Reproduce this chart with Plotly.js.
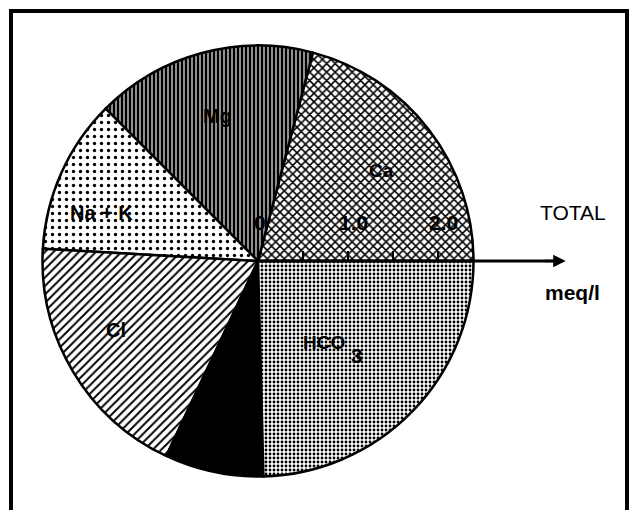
<!DOCTYPE html>
<html>
<head>
<meta charset="utf-8">
<script src="https://cdn.plot.ly/plotly-3.0.1.min.js"></script>
<style>html,body{margin:0;padding:0;background:#fff;}#chart{width:633px;height:510px;}</style>
</head>
<body>
<div id="chart"></div>
<script>
// ---- data ----
const sliceLabels = ['Ca', 'Mg', 'Na + K', 'Cl', 'SO4', 'HCO3'];
const sliceValues = [20.9, 16.6, 11.6, 18.9, 7.4, 24.6];
const tickVals = [0, 0.5, 1.0, 1.5, 2.0];
const tickText = ['0', '', '1.0', '', '2.0'];
const axisLabel = 'TOTAL';
const unitLabel = 'meq/l';

// ---- geometry / style ----
const W = 633, H = 510;
const cx = 258, cy = 261, R = 215.5;       // pie centre & radius in px
const pxPerUnit = 90;                        // axis scale
const axisEndPx = 566;
const axisMax = (axisEndPx - cx) / pxPerUnit;
const FONT = 'Liberation Sans, Arial, sans-serif';

const total = sliceValues.reduce((a, b) => a + b, 0);
// counterclockwise pies put the first slice clockwise of `rotation`;
// shift so that the first slice starts at 3 o'clock and runs upward
const rotation = 90 - sliceValues[0] / total * 360;

const pie = {
  type: 'pie',
  labels: sliceLabels,
  values: sliceValues,
  sort: false,
  direction: 'counterclockwise',
  rotation: rotation,
  textinfo: 'none',
  hoverinfo: 'skip',
  showlegend: false,
  domain: {
    x: [(cx - R) / W, (cx + R) / W],
    y: [(H - cy - R) / H, (H - cy + R) / H]
  },
  marker: {
    colors: ['#000', '#000', '#000', '#000', '#000', '#000'],
    line: {color: '#000', width: 2.5},
    pattern: {
      shape: ['x', '|', '.', '/', '', '.'],
      size: [6, 4, 7, 6, 8, 4],
      solidity: [0.45, 0.72, 0.18, 0.32, 0.5, 0.4],
      fillmode: 'replace'
    }
  }
};

const axisTrace = {
  type: 'scatter',
  x: tickVals,
  y: tickVals.map(() => 0),
  mode: 'none',
  hoverinfo: 'skip',
  showlegend: false,
  xaxis: 'x', yaxis: 'y'
};

const yPos = (H - cy) / H;
const tickLenPx = 10;
const yUnitPx = 510 * 0.1 / 2;   // px per y unit (domain 0.1 of height, range 2)

const labelPos = {
  'Ca': [381, 170, 19],
  'Mg': [217, 116, 20],
  'Na + K': [101, 213, 20],
  'Cl': [116, 330, 20]
};

const annotations = [];
Object.keys(labelPos).forEach(k => {
  const p = labelPos[k];
  annotations.push({
    xref: 'paper', yref: 'paper', x: p[0] / W, y: (H - p[1]) / H,
    text: k, showarrow: false,
    xanchor: 'center', yanchor: 'middle',
    font: {family: FONT, size: p[2], color: '#000', weight: 'bold'}
  });
});
annotations.push({
  xref: 'paper', yref: 'paper', x: 324 / W, y: (H - 342) / H,
  text: 'HCO', showarrow: false, xanchor: 'center', yanchor: 'middle',
  font: {family: FONT, size: 19, color: '#000', weight: 'bold'}
});
annotations.push({
  xref: 'paper', yref: 'paper', x: 357 / W, y: (H - 355) / H,
  text: '3', showarrow: false, xanchor: 'center', yanchor: 'middle',
  font: {family: FONT, size: 21, color: '#000', weight: 'bold'}
});
annotations.push({
  xref: 'paper', yref: 'paper', x: 573 / W, y: (H - 213) / H,
  text: axisLabel, showarrow: false, xanchor: 'center', yanchor: 'middle',
  font: {family: FONT, size: 21, color: '#000'}
});
annotations.push({
  xref: 'paper', yref: 'paper', x: 572 / W, y: (H - 292) / H,
  text: unitLabel, showarrow: false, xanchor: 'center', yanchor: 'middle',
  font: {family: FONT, size: 21, color: '#000', weight: 'bold'}
});
// tick labels of the TOTAL scale, placed on the x axis
tickVals.forEach((v, i) => {
  if (!tickText[i]) return;
  annotations.push({
    xref: 'x', yref: 'paper', x: v, y: (H - 222) / H,
    text: tickText[i], showarrow: false, xanchor: 'center', yanchor: 'middle',
    xshift: v === 0 ? 2 : 5,
    font: {family: FONT, size: 21, color: '#000', weight: 'bold'}
  });
});
// arrow head at end of the axis
annotations.push({
  xref: 'x', yref: 'y', x: axisMax * 0.999, y: 0,
  ax: -22, ay: 0, text: '', showarrow: true,
  arrowhead: 2, arrowsize: 1, arrowwidth: 2.5, arrowcolor: '#000'
});

const shapes = [{
  type: 'rect', xref: 'paper', yref: 'paper',
  x0: 11 / W, x1: 627 / W, y0: -0.1, y1: (H - 11) / H,
  line: {color: '#000', width: 4}, fillcolor: 'rgba(0,0,0,0)', layer: 'above'
}, {
  type: 'line', xref: 'x', yref: 'y', x0: 0, x1: axisMax * 0.97, y0: 0, y1: 0,
  line: {color: '#000', width: 3}, layer: 'above'
}];
tickVals.forEach(v => {
  if (v === 0) return;
  shapes.push({
    type: 'line', xref: 'x', yref: 'y', x0: v, x1: v, y0: 0, y1: tickLenPx / yUnitPx,
    line: {color: '#000', width: 2}, layer: 'above'
  });
});

const layout = {
  width: W, height: H,
  margin: {l: 0, r: 0, t: 0, b: 0},
  paper_bgcolor: '#fff',
  plot_bgcolor: 'rgba(0,0,0,0)',
  showlegend: false,
  xaxis: {
    domain: [cx / W, axisEndPx / W],
    range: [0, axisMax],
    visible: false, fixedrange: true
  },
  yaxis: {
    domain: [yPos - 0.05, yPos + 0.05],
    range: [-1, 1],
    visible: false, fixedrange: true
  },
  shapes: shapes,
  annotations: annotations
};

Plotly.newPlot('chart', [axisTrace, pie], layout, {staticPlot: true, displayModeBar: false});
</script>
</body>
</html>
